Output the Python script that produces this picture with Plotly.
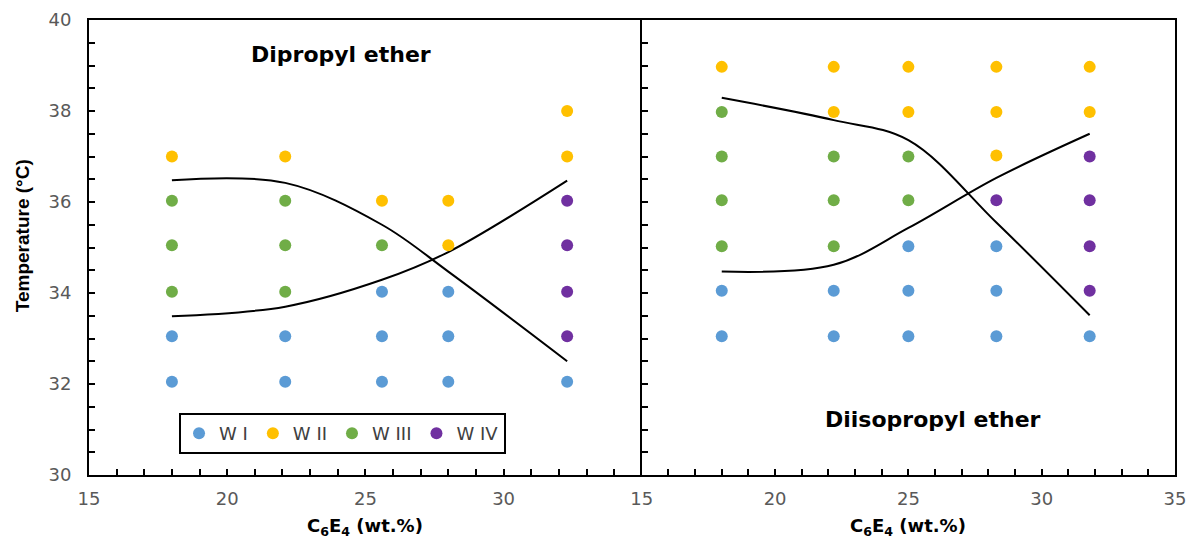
import plotly.graph_objects as go

# ---------------- data ----------------
# Left panel: Dipropyl ether
dp_wI_x = [18, 18, 22.1, 22.1, 25.6, 25.6, 25.6, 28, 28, 28, 32.3]
dp_wI_y = [32.05, 33.05, 32.05, 33.05, 32.05, 33.05, 34.03, 32.05, 33.05, 34.03, 32.05]
dp_wII_x = [18, 22.1, 25.6, 28, 28, 32.3, 32.3]
dp_wII_y = [37.0, 37.0, 36.03, 35.05, 36.03, 37.0, 38.0]
dp_wIII_x = [18, 18, 18, 22.1, 22.1, 22.1, 25.6]
dp_wIII_y = [34.03, 35.05, 36.03, 34.03, 35.05, 36.03, 35.05]
dp_wIV_x = [32.3, 32.3, 32.3, 32.3]
dp_wIV_y = [33.05, 34.03, 35.05, 36.03]
dp_upper_x = [18, 22.1, 25.6, 28, 32.3]
dp_upper_y = [36.48, 36.42, 35.5, 34.47, 32.5]
dp_lower_x = [18, 22.1, 25.6, 28, 32.3]
dp_lower_y = [33.49, 33.7, 34.29, 34.9, 36.47]

# Right panel: Diisopropyl ether
dip_wI_x = [18, 18, 22.2, 22.2, 25, 25, 25, 28.3, 28.3, 28.3, 31.8]
dip_wI_y = [33.05, 34.05, 33.05, 34.05, 33.05, 34.05, 35.03, 33.05, 34.05, 35.03, 33.05]
dip_wII_x = [18, 22.2, 22.2, 25, 25, 28.3, 28.3, 28.3, 31.8, 31.8]
dip_wII_y = [38.97, 37.98, 38.97, 37.98, 38.97, 37.02, 37.98, 38.97, 37.98, 38.97]
dip_wIII_x = [18, 18, 18, 18, 22.2, 22.2, 22.2, 25, 25]
dip_wIII_y = [35.03, 36.04, 37.0, 37.98, 35.03, 36.04, 37.0, 36.04, 37.0]
dip_wIV_x = [28.3, 31.8, 31.8, 31.8, 31.8]
dip_wIV_y = [36.04, 34.05, 35.03, 36.04, 37.0]
dip_upper_x = [18, 22.2, 25, 28.3, 31.8]
dip_upper_y = [38.29, 37.8, 37.36, 35.55, 33.51]
dip_lower_x = [18, 22.2, 25, 28.3, 31.8]
dip_lower_y = [34.47, 34.62, 35.43, 36.53, 37.5]

series_names = ["W I", "W II", "W III", "W IV"]
series_colors = ["#5B9BD5", "#FFC000", "#70AD47", "#7030A0"]

left_xticks = [15, 20, 25, 30]
right_xticks = [15, 20, 25, 30, 35]
yticks = [30, 32, 34, 36, 38, 40]

# ---------------- figure ----------------
fig = go.Figure()

line_style = dict(color="black", width=2, shape="spline", smoothing=1.0)

for xs, ys, xa, ya in [
    (dp_upper_x, dp_upper_y, "x", "y"),
    (dp_lower_x, dp_lower_y, "x", "y"),
    (dip_upper_x, dip_upper_y, "x2", "y2"),
    (dip_lower_x, dip_lower_y, "x2", "y2"),
]:
    fig.add_trace(go.Scatter(x=xs, y=ys, mode="lines", line=line_style,
                             xaxis=xa, yaxis=ya, showlegend=False, hoverinfo="skip"))

left_sets = [(dp_wI_x, dp_wI_y), (dp_wII_x, dp_wII_y), (dp_wIII_x, dp_wIII_y), (dp_wIV_x, dp_wIV_y)]
right_sets = [(dip_wI_x, dip_wI_y), (dip_wII_x, dip_wII_y), (dip_wIII_x, dip_wIII_y), (dip_wIV_x, dip_wIV_y)]

for i, (name, col) in enumerate(zip(series_names, series_colors)):
    lx, ly = left_sets[i]
    rx, ry = right_sets[i]
    fig.add_trace(go.Scatter(x=lx, y=ly, mode="markers", name=name,
                             marker=dict(size=12, color=col),
                             xaxis="x", yaxis="y", showlegend=True, legendgroup=name))
    fig.add_trace(go.Scatter(x=rx, y=ry, mode="markers", name=name,
                             marker=dict(size=12, color=col),
                             xaxis="x2", yaxis="y2", showlegend=False, legendgroup=name))

split = 0.509
FONT = "DejaVu Sans, Liberation Sans, Arial, sans-serif"
tick_font = dict(family=FONT, size=18, color="#595959")

minor_x = dict(dtick=1, ticks="inside", ticklen=6, tickwidth=2, tickcolor="black")
minor_y = dict(dtick=0.5, ticks="inside", ticklen=6, tickwidth=2, tickcolor="black")

axis_common = dict(showgrid=False, zeroline=False, showline=True, linecolor="black",
                   linewidth=2, ticks="inside", ticklen=6, tickwidth=2, tickcolor="black",
                   tickfont=tick_font, automargin=False)

fig.update_layout(
    width=1189, height=540,
    margin=dict(l=89, r=14, t=20, b=65),
    paper_bgcolor="white", plot_bgcolor="white",
    font=dict(family=FONT, size=18, color="black"),
    xaxis=dict(domain=[0, split], range=[15, 35], tickvals=left_xticks, minor=minor_x,
               ticklabelstandoff=6, anchor="y", mirror=True, **axis_common),
    xaxis2=dict(domain=[split, 1], range=[15, 35], tickvals=right_xticks, minor=minor_x,
                ticklabelstandoff=6, anchor="y2", mirror=True, **axis_common),
    yaxis=dict(domain=[0, 1], range=[30, 40], tickvals=yticks, minor=minor_y,
               ticklabelstandoff=12, anchor="x", mirror=False, **axis_common),
    yaxis2=dict(domain=[0, 1], range=[30, 40], tickvals=yticks, showticklabels=False,
                minor=minor_y, anchor="x2", mirror=True, **axis_common),
    legend=dict(orientation="h", x=0.0829, y=0.1364, xanchor="left", yanchor="top",
                xref="paper", yref="paper",
                bordercolor="black", borderwidth=2, bgcolor="white",
                font=dict(family=FONT, size=18, color="#404040"), itemwidth=30,
                tracegroupgap=0),
)

fig.add_annotation(text="<b>Dipropyl ether</b>", x=24.12, y=39.24,
                   xref="x", yref="y", showarrow=False, xanchor="center",
                   font=dict(family=FONT, size=22, color="black"))
fig.add_annotation(text="<b>Diisopropyl ether</b>", x=25.92, y=31.21,
                   xref="x2", yref="y2", showarrow=False, xanchor="center",
                   font=dict(family=FONT, size=22, color="black"))

fig.add_annotation(text="<b>Temperature (°C)</b>", x=-0.0617, y=0.527, xref="paper", yref="paper",
                   textangle=-90, showarrow=False, xanchor="center", yanchor="middle",
                   font=dict(family="Liberation Sans, Arial, sans-serif", size=19, color="black"))
fig.add_annotation(text="<b>C<sub>6</sub>E<sub>4</sub> (wt.%)</b>", x=0.2545, y=-0.115,
                   xref="paper", yref="paper", showarrow=False, xanchor="center", yanchor="middle",
                   font=dict(family=FONT, size=18, color="black"))
fig.add_annotation(text="<b>C<sub>6</sub>E<sub>4</sub> (wt.%)</b>", x=0.7545, y=-0.115,
                   xref="paper", yref="paper", showarrow=False, xanchor="center", yanchor="middle",
                   font=dict(family=FONT, size=18, color="black"))

fig.write_html("out.html", config={"displayModeBar": False},
               post_script="document.body.style.margin='0px';")
